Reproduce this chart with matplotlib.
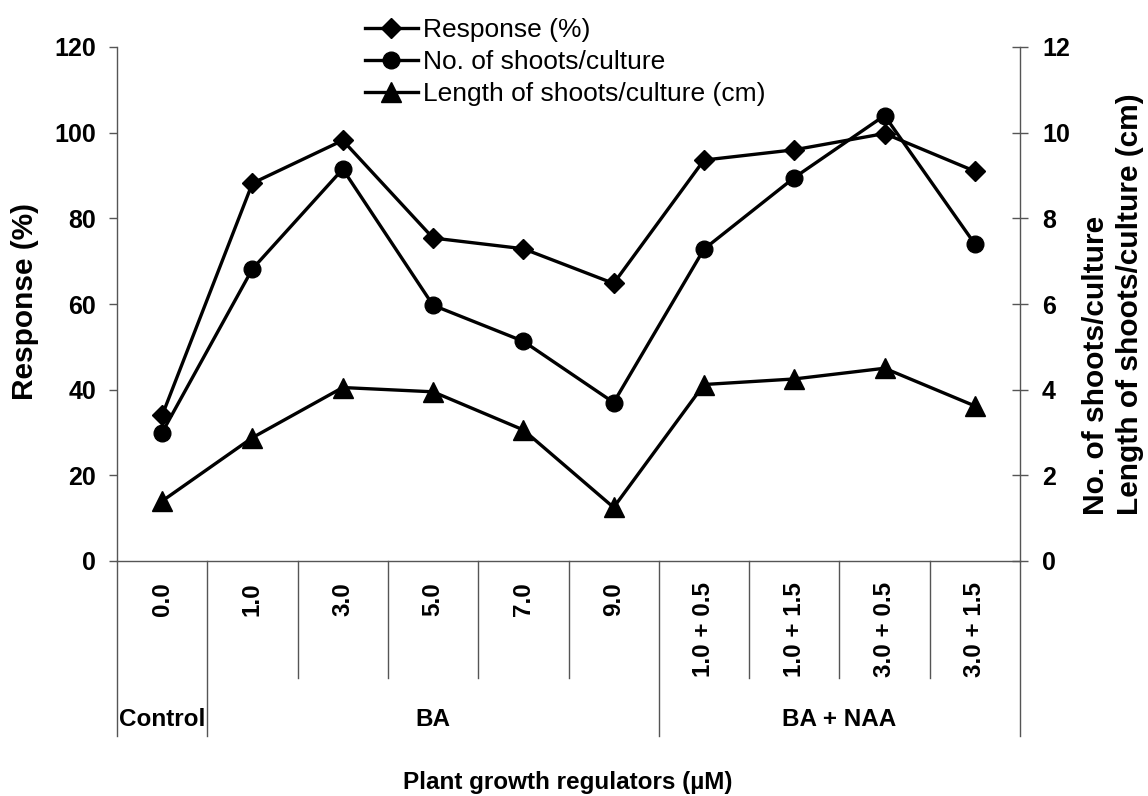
import matplotlib
matplotlib.use("Agg")
import matplotlib.pyplot as plt
from matplotlib.lines import Line2D

plt.rcParams['font.family'] = ['Liberation Sans', 'DejaVu Sans']

# treatments (uM) and the groups they belong to
doses = ["0.0", "1.0", "3.0", "5.0", "7.0", "9.0",
         "1.0 + 0.5", "1.0 + 1.5", "3.0 + 0.5", "3.0 + 1.5"]
groups = ["Control", "BA", "BA + NAA"]
group_spans = [(0, 1), (1, 6), (6, 10)]

# values
response = [34.0, 88.2, 98.2, 75.4, 72.9, 64.8, 93.6, 96.0, 99.8, 91.0]
shoots_no = [3.0, 6.82, 9.15, 5.97, 5.13, 3.70, 7.28, 8.95, 10.4, 7.4]
shoots_len = [1.40, 2.88, 4.05, 3.95, 3.06, 1.25, 4.12, 4.25, 4.50, 3.62]

W, H = 1148, 796
fig = plt.figure(figsize=(W / 100, H / 100), dpi=100)
ax = fig.add_axes([117 / W, 1 - 561 / H, 903 / W, 514 / H])
ax2 = ax.twinx()

# marker styles shared by plot and legend
styles = [dict(marker='D', ms=10), dict(marker='o', ms=12), dict(marker='^', ms=14)]
lw = 2.4

x = list(range(len(doses)))
ax.plot(x, response, color='black', lw=lw, zorder=3, **styles[0])
ax2.plot(x, shoots_no, color='black', lw=lw, zorder=3, **styles[1])
ax2.plot(x, shoots_len, color='black', lw=lw, zorder=3, **styles[2])

ax.set_xlim(-0.5, len(doses) - 0.5)
ax.set_ylim(0, 120)
ax2.set_ylim(0, 12)
ax.set_yticks(range(0, 121, 20))
ax2.set_yticks(range(0, 13, 2))
ax.set_xticks([])

spine_col = '#555555'
for a in (ax, ax2):
    for s in a.spines.values():
        s.set_color(spine_col)
        s.set_linewidth(1.0)
    a.spines['top'].set_visible(False)
ax.spines['right'].set_visible(False)
ax2.spines['left'].set_visible(False)
ax2.spines['bottom'].set_visible(False)

ax.tick_params(axis='y', direction='out', length=6, width=1, color=spine_col,
               pad=9, labelsize=18)
ax2.tick_params(axis='y', direction='inout', length=11.5, width=1, color=spine_col,
                pad=10, labelsize=18)
for lab in ax.get_yticklabels() + ax2.get_yticklabels():
    lab.set_fontweight('bold')

# category table under the plot
trans = ax.get_xaxis_transform()
outer = [0, 1, 6, 10]
for k in range(len(doses) + 1):
    bottom = -0.3405 if k in outer else -0.2276
    ax.plot([k - 0.5, k - 0.5], [0, bottom], transform=trans, color=spine_col,
            lw=1.0, clip_on=False)

for i, d in enumerate(doses):
    ax.text(i, -0.041, d, transform=trans, rotation=90, ha='center', va='top',
            fontsize=17.5, fontweight='bold')

for g, (a0, a1) in zip(groups, group_spans):
    ax.text((a0 + a1 - 1) / 2, -0.309, g, transform=trans, ha='center', va='center',
            fontsize=17.5, fontweight='bold')

fig.text(568 / W, 1 - 782 / H, "Plant growth regulators (\u00b5M)", ha='center',
         va='center', fontsize=17.5, fontweight='bold')
fig.text(25 / W, 1 - 302 / H, "Response (%)", rotation=90, ha='center',
         va='center', fontsize=21.5, fontweight='bold')
fig.text(1113 / W, 1 - 515 / H,
         "No. of shoots/culture\nLength of shoots/culture (cm)",
         rotation=90, ha='center', va='bottom', multialignment='left',
         linespacing=1.25, fontsize=21.5, fontweight='bold')

handles = [Line2D([], [], color='black', lw=lw, **st) for st in styles]
labels = ["Response (%)", "No. of shoots/culture", "Length of shoots/culture (cm)"]
fig.legend(handles, labels, loc='upper left', bbox_to_anchor=(365 / W, 1 - 18 / H),
           frameon=False, fontsize=19, handlelength=2.0, handletextpad=0.2,
           labelspacing=0.3, borderpad=0, borderaxespad=0)

fig.savefig("out.png", dpi=100)
